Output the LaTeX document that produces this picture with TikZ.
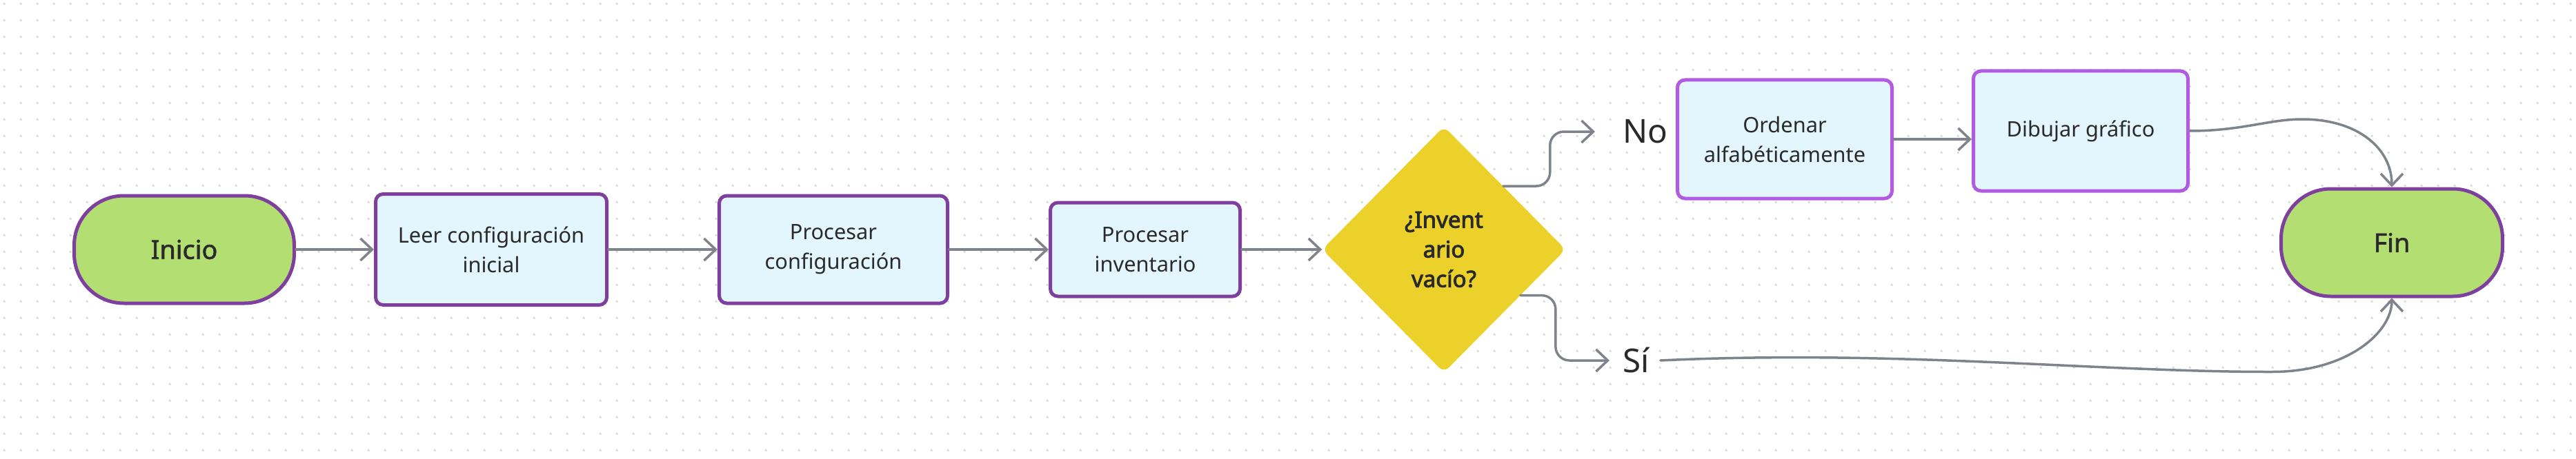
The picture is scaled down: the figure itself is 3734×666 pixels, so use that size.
\documentclass[tikz,border=0pt]{standalone}
\usepackage{fontspec}
\setmainfont{Noto Sans}
\newfontfamily\mysemibold{Noto Sans}[FakeBold=1.6]
\newfontfamily\myboldfam{Noto Sans}[FakeBold=2.8]
\usetikzlibrary{shapes.geometric,arrows.meta,calc}
\definecolor{termbd}{HTML}{7F3F9F}
\definecolor{procbd}{HTML}{7F3F9F}
\definecolor{lightbd}{HTML}{B25BE2}
\definecolor{termfill}{HTML}{B3DE72}
\definecolor{procfill}{HTML}{E4F6FD}
\definecolor{decfill}{HTML}{ECD12B}
\definecolor{conncol}{HTML}{7F838B}
\definecolor{txtc}{HTML}{2A2A2A}
\definecolor{dotc}{HTML}{D6D6D6}
\newcommand\myboxfont{\fontsize{30.8pt}{43pt}\selectfont}
\newcommand\mytermfont{\mysemibold\fontsize{37.8pt}{45pt}\selectfont}
\newcommand\mydecfont{\myboldfam\fontsize{33pt}{43pt}\selectfont}
\newcommand\mylabfont{\fontsize{47.6pt}{55pt}\selectfont}
\begin{document}
\begin{tikzpicture}[x=1pt,y=-1pt,
  term/.style={rectangle, rounded corners=72pt, draw=termbd, line width=5pt, fill=termfill,
    text=txtc, font=\mytermfont, inner sep=0pt},
  procbox/.style={rectangle, rounded corners=11pt, draw=procbd, line width=5pt, fill=procfill,
    text=txtc, font=\myboxfont, align=center, inner sep=0pt},
  lightbox/.style={procbox, draw=lightbd},
  decbox/.style={diamond, aspect=1, fill=decfill, rounded corners=10pt, text=txtc,
    font=\mydecfont, align=center, inner sep=0pt, minimum width=353pt, minimum height=357pt},
  lab/.style={text=txtc, font=\mylabfont, inner sep=0pt, anchor=west},
  conn/.style={draw=conncol, line width=3.5pt, line cap=round,
    -{Straight Barb[length=17pt,width=32pt]}}
]
\useasboundingbox (0,0) rectangle (3734,666);
\fill[white] (0,0) rectangle (3734,666);
\foreach \j in {0,...,27} {
  \fill[dotc] \foreach \i in {0,...,155} { (5+24*\i,4+24*\j) rectangle ++(2.6,2.6) };
}

\node[term, minimum width=319pt, minimum height=156pt] (ini) at (267,362) {Inicio};
\node[procbox, minimum width=335pt, minimum height=161pt] (leer) at (712,362) {Leer configuración\\inicial};
\node[procbox, minimum width=331pt, minimum height=156pt] (pc) at (1208,362) {Procesar\\configuración};
\node[procbox, minimum width=275pt, minimum height=136pt] (pi) at (1660,362) {Procesar\\inventario};
\node[decbox] (dec) at (2093,362) {¿Invent\\ario\\vacío?};
\node[lab] (no) at (2352,191) {No};
\node[lab] (si) at (2352,523) {Sí};
\node[lightbox, minimum width=311pt, minimum height=172pt] (ord) at (2587,202) {Ordenar\\alfabéticamente};
\node[lightbox, minimum width=311pt, minimum height=174pt] (dib) at (3016,190) {Dibujar gráfico};
\node[term, minimum width=321pt, minimum height=156pt] (fin) at (3467,352) {Fin};

\draw[conn] (ini.east) -- (leer.west);
\draw[conn] (leer.east) -- (pc.west);
\draw[conn] (pc.east) -- (pi.west);
\draw[conn] (pi.east) -- (dec.west);
\draw[conn, rounded corners=20pt, shorten >=40pt] (dec.47) -- ([xshift=68pt]dec.47) |- (no.west);
\draw[conn, rounded corners=20pt, shorten >=19pt] (dec.-31) -- ([xshift=51pt]dec.-31) |- (si.west);
\draw[conn] (ord.east) -- (ord.east -| dib.west);
\draw[conn] (dib.east) .. controls ($(dib.east)+(75,0)$) and ($(dib.east)+(115,-17)$) .. ($(dib.east)+(163,-17)$)
  .. controls ($(dib.east)+(245,-17)$) and ($(fin.north)+(0,-55)$) .. (fin.north);
\draw[conn] ([xshift=16pt]si.east) .. controls ($(si.east)+(360,-16)$) and ($(si.east)+(650,17)$) .. ($(fin.south)+(-173,107)$)
  .. controls ($(fin.south)+(-65,107)$) and ($(fin.south)+(0,50)$) .. (fin.south);
\end{tikzpicture}
\end{document}
